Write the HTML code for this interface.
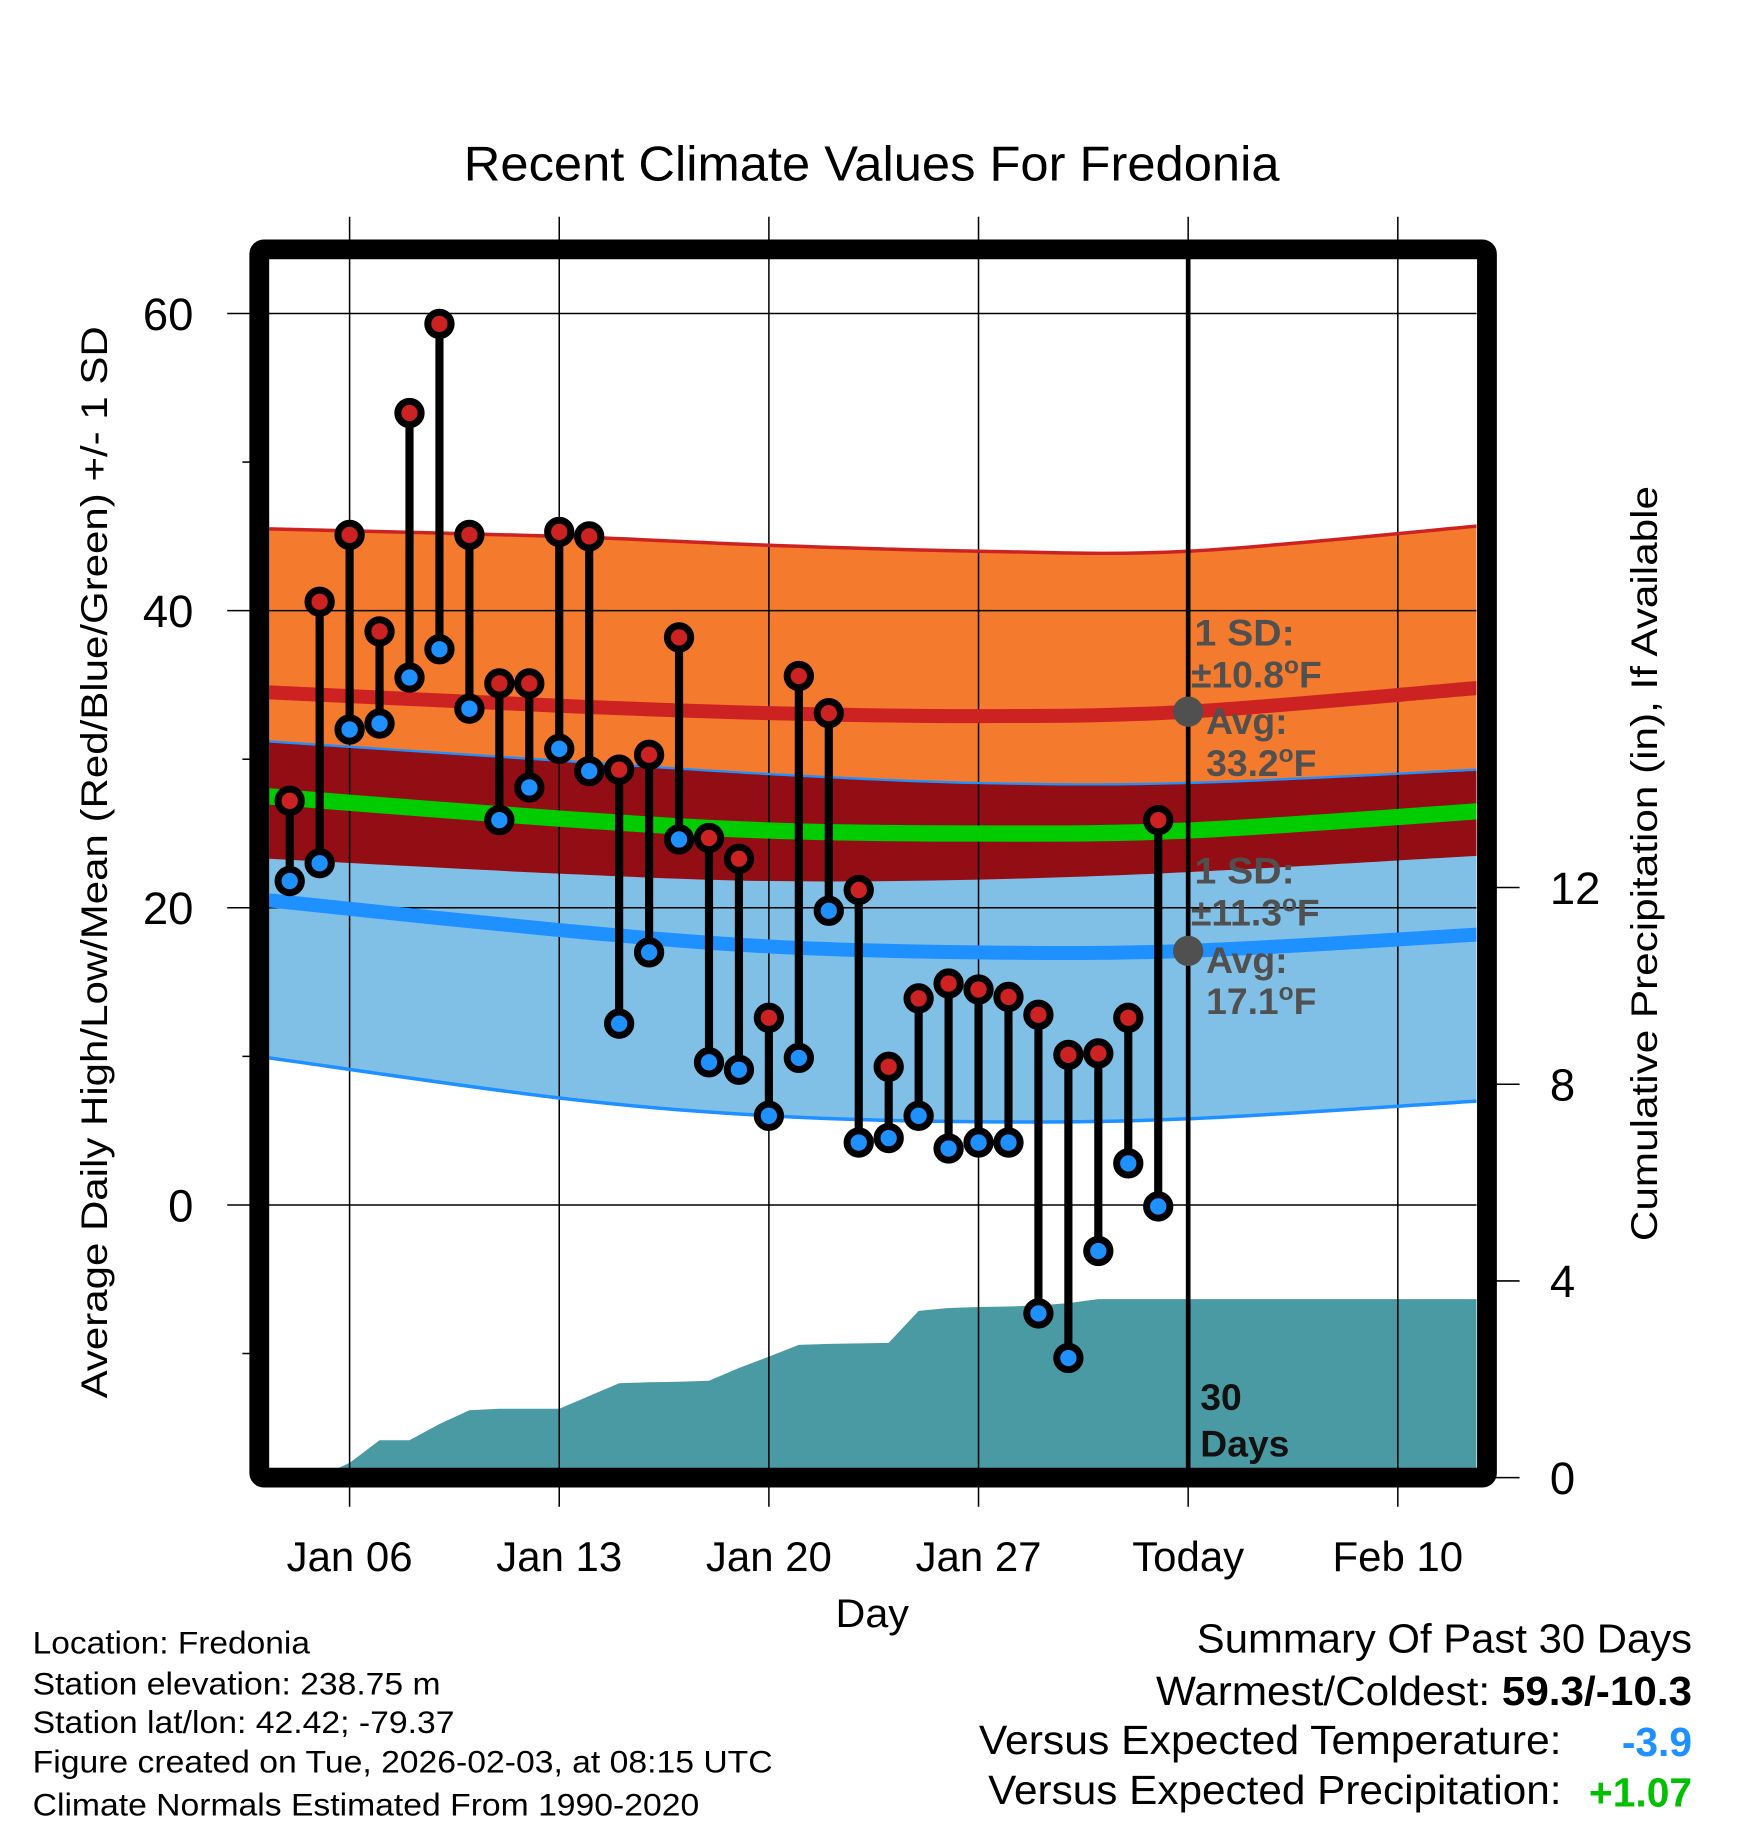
<!DOCTYPE html>
<html><head><meta charset="utf-8"><style>
html,body{margin:0;padding:0;background:#fff;}
svg{display:block;font-family:"Liberation Sans",Arial,sans-serif;}
</style></head><body>
<svg id="chart" width="1748" height="1828" viewBox="0 0 1500 1568.65" preserveAspectRatio="none" xmlns="http://www.w3.org/2000/svg">
<defs><clipPath id="plotclip"><rect x="231" y="223" width="1036" height="1037"/></clipPath></defs>
<text x="398" y="155" font-size="42" textLength="700" lengthAdjust="spacingAndGlyphs">Recent Climate Values For Fredonia</text>
<g id="bands" clip-path="url(#plotclip)"></g>
<g id="precip" clip-path="url(#plotclip)"></g>
<g id="grid"></g>
<g id="lines"></g>
<g id="marks"></g>
<g id="annot">
<g fill="#505050" font-weight="bold" font-size="32">
<text x="1025" y="554" textLength="86" lengthAdjust="spacingAndGlyphs">1 SD:</text>
<text x="1022" y="590">±10.8<tspan dy="-12" font-size="21">o</tspan><tspan dy="12">F</tspan></text>
<text x="1035" y="630">Avg:</text>
<text x="1035" y="666">33.2<tspan dy="-12" font-size="21">o</tspan><tspan dy="12">F</tspan></text>
<text x="1025" y="758" textLength="86" lengthAdjust="spacingAndGlyphs">1 SD:</text>
<text x="1022" y="794">±11.3<tspan dy="-12" font-size="21">o</tspan><tspan dy="12">F</tspan></text>
<text x="1035" y="835">Avg:</text>
<text x="1035" y="870">17.1<tspan dy="-12" font-size="21">o</tspan><tspan dy="12">F</tspan></text>
</g>
<g font-weight="bold" font-size="32" fill="#111">
<text x="1030" y="1210">30</text>
<text x="1030" y="1250">Days</text>
</g>
</g>
<rect x="222.5" y="214" width="1053.5" height="1054" fill="none" stroke="#000" stroke-width="17" rx="4"/>
<g id="axes"></g>
<text x="717" y="1396" font-size="34" textLength="63" lengthAdjust="spacingAndGlyphs">Day</text>
<text transform="translate(92,1200) rotate(-90)" font-size="32" textLength="920" lengthAdjust="spacingAndGlyphs">Average Daily High/Low/Mean (Red/Blue/Green) +/- 1 SD</text>
<text transform="translate(1422,1065) rotate(-90)" font-size="32" textLength="648" lengthAdjust="spacingAndGlyphs">Cumulative Precipitation (in), If Available</text>
<g font-size="27">
<text x="28" y="1419" textLength="238" lengthAdjust="spacingAndGlyphs">Location: Fredonia</text>
<text x="28" y="1454" textLength="350" lengthAdjust="spacingAndGlyphs">Station elevation: 238.75 m</text>
<text x="28" y="1487" textLength="362" lengthAdjust="spacingAndGlyphs">Station lat/lon: 42.42; -79.37</text>
<text x="28" y="1521" textLength="635" lengthAdjust="spacingAndGlyphs">Figure created on Tue, 2026-02-03, at 08:15 UTC</text>
<text x="28" y="1558" textLength="572" lengthAdjust="spacingAndGlyphs">Climate Normals Estimated From 1990-2020</text>
</g>
<g font-size="35">
<text x="1027" y="1418" textLength="425" lengthAdjust="spacingAndGlyphs">Summary Of Past 30 Days</text>
<text x="992" y="1463" textLength="460" lengthAdjust="spacingAndGlyphs">Warmest/Coldest: <tspan font-weight="bold">59.3/-10.3</tspan></text>
<text x="840" y="1505" textLength="500" lengthAdjust="spacingAndGlyphs">Versus Expected Temperature:</text>
<text x="1452" y="1507" font-weight="bold" fill="#1e90ff" text-anchor="end">-3.9</text>
<text x="848" y="1548" textLength="492" lengthAdjust="spacingAndGlyphs">Versus Expected Precipitation:</text>
<text x="1452" y="1550" font-weight="bold" fill="#00c000" text-anchor="end">+1.07</text>
</g>
</svg>
<script>
// data (days relative to Jan 06 = 0)
const obsDays = [-2,-1,0,1,2,3,4,5,6,7,8,9,10,11,12,13,14,15,16,17,18,19,20,21,22,23,24,25,26,27];
const highs = [27.2,40.6,45.1,38.6,53.3,59.3,45.1,35.1,35.1,45.3,45.0,29.3,30.3,38.2,24.7,23.3,12.6,35.6,33.1,21.2,9.3,13.9,14.9,14.5,14.0,12.8,10.1,10.2,12.6,25.9];
const lows = [21.8,23.0,32.0,32.4,35.5,37.4,33.4,25.9,28.1,30.7,29.2,12.2,17.0,24.6,9.6,9.1,6.0,9.9,19.8,4.2,4.5,6.0,3.8,4.2,4.2,-7.3,-10.3,-3.1,2.8,-0.1];
const precipCum = [0,0,0.3,0.76,0.76,1.09,1.37,1.40,1.40,1.40,1.66,1.92,1.94,1.95,1.97,2.23,2.46,2.70,2.72,2.73,2.74,3.39,3.45,3.47,3.48,3.50,3.55,3.63,3.63,3.63];
const normDays = [-2.7,7,14,21,28,37.7];
const highUpper = [45.5,45.0,44.4,44.0,44.0,45.7];
const highMean = [34.5,33.6,33.1,32.9,33.2,34.8];
const highLower = [23.3,22.3,21.8,21.9,22.4,23.5];
const lowUpper = [31.2,29.9,29.0,28.4,28.4,29.3];
const lowMean = [20.5,18.5,17.4,17.0,17.1,18.2];
const lowLower = [9.9,7.2,6.0,5.6,5.8,7.0];
const meanLine = [27.5,26.0,25.2,25.0,25.2,26.5];
const yTicks = [60,40,20,0];
const yMinor = [50,30,10,-10];
const pTicks = [0,4,8,12];
const xTickDays = [0,7,14,21,28,35];
const xTickLabels = ["Jan 06","Jan 13","Jan 20","Jan 27","Today","Feb 10"];

const NS="http://www.w3.org/2000/svg";
const X0=231,X1=1267,Y0=223,Y1=1260;
const x=d=>300+d*25.7;
const y=v=>1034-v*12.75;
const py=p=>1268-p*42.2;
function mk(tag,attrs,parent){const e=document.createElementNS(NS,tag);for(const k in attrs)e.setAttribute(k,attrs[k]);document.getElementById(parent).appendChild(e);return e;}
function smooth(xs,ys){let pts=xs.map((a,i)=>[a,ys[i]]);let d=`M${pts[0][0]},${pts[0][1]}`;
 for(let i=0;i<pts.length-1;i++){const p0=pts[Math.max(0,i-1)],p1=pts[i],p2=pts[i+1],p3=pts[Math.min(pts.length-1,i+2)];
 const c1=[p1[0]+(p2[0]-p0[0])/6,p1[1]+(p2[1]-p0[1])/6],c2=[p2[0]-(p3[0]-p1[0])/6,p2[1]-(p3[1]-p1[1])/6];
 d+=` C${c1[0]},${c1[1]} ${c2[0]},${c2[1]} ${p2[0]},${p2[1]}`;}return d;}
function smoothRev(xs,ys){return smooth(xs.slice().reverse(),ys.slice().reverse()).replace(/^M/,'L');}
const nx=normDays.map(x);
function band(up,lo,fill,name){const e=mk('path',{d:smooth(nx,up.map(y))+' '+smoothRev(nx,lo.map(y))+' Z',fill:fill},'bands');
 
 }
band(highUpper,highLower,'#f47a2e','high-sd-band');
band(lowUpper,lowLower,'#80c0e6','low-sd-band');
band(lowUpper,highLower,'#930e14','overlap-band');
function line(vals,col,w,name){const e=mk('path',{d:smooth(nx,vals.map(y)),fill:'none',stroke:col,'stroke-width':w,'clip-path':'url(#plotclip)'},'lines');
 
 }
line(highUpper,'#cc2222',3,'high-upper-line');
line(lowUpper,'#1e90ff',2,'low-upper-line');
line(lowLower,'#1e90ff',3,'low-lower-line');
line(highMean,'#cc2222',12,'high-mean-line');
line(lowMean,'#1e90ff',12,'low-mean-line');
line(meanLine,'#00cc00',14,'mean-line');
// precipitation
let pd=`M${X0},${Y1} L${x(-0.4)},${Y1}`;
obsDays.forEach((d,i)=>{if(precipCum[i]>0||i>2)pd+=` L${x(d)},${py(precipCum[i])}`;});
pd+=` L${X1},${py(precipCum[precipCum.length-1])} L${X1},${Y1} Z`;
const pr=mk('path',{d:pd,fill:'#4a9aa4'},'precip');


// grid
yTicks.forEach(v=>{const l=mk('line',{x1:195,x2:X1,y1:y(v),y2:y(v),stroke:'#000','stroke-width':1.3},'grid');
 
 
 const t=mk('text',{x:166,y:y(v)+14,'font-size':39,'text-anchor':'end'},'axes');t.textContent=v;
 
 });
yMinor.forEach(v=>{const l=mk('line',{x1:208,x2:215,y1:y(v),y2:y(v),stroke:'#000','stroke-width':1.3},'grid');
 
 });
xTickDays.forEach((d,i)=>{const l=mk('line',{x1:x(d),x2:x(d),y1:186,y2:1293,stroke:'#000','stroke-width':1.3},'grid');
 
 
 const t=mk('text',{x:x(d),y:1348,'font-size':36,'text-anchor':'middle'},'axes');t.textContent=xTickLabels[i];
 
 });
pTicks.forEach(p=>{const l=mk('line',{x1:1276,x2:1304,y1:py(p),y2:py(p),stroke:'#000','stroke-width':1.3},'axes');
 
 
 const t=mk('text',{x:1330,y:py(p)+14,'font-size':39},'axes');t.textContent=p;
 
 });
const tl=mk('line',{x1:x(28),x2:x(28),y1:214,y2:1268,stroke:'#000','stroke-width':4},'lines');


[[33.2,'high-avg-dot'],[17.1,'low-avg-dot']].forEach(a=>{const c=mk('circle',{cx:x(28),cy:y(a[0]),r:13,fill:'#505050'},'lines');
 
 });
// observations
obsDays.forEach((d,i)=>{
 const s=mk('line',{x1:x(d),x2:x(d),y1:y(highs[i]),y2:y(lows[i]),stroke:'#000','stroke-width':7},'marks');
 
 
 const h=mk('circle',{cx:x(d),cy:y(highs[i]),r:10,fill:'#cc2222',stroke:'#000','stroke-width':6},'marks');
 
 
 const lo=mk('circle',{cx:x(d),cy:y(lows[i]),r:10,fill:'#1e90ff',stroke:'#000','stroke-width':6},'marks');
 
 
});
</script>
</body></html>
